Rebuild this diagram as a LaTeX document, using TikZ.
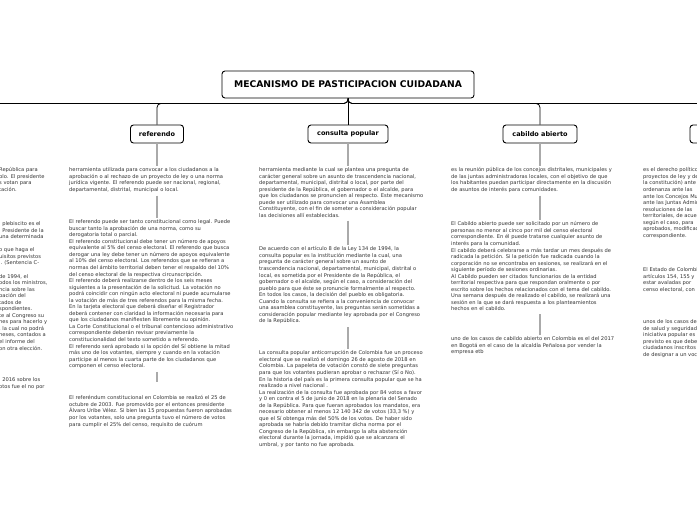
\documentclass[tikz,border=0pt]{standalone}
\usepackage{fontspec}
\setmainfont{DejaVu Sans}
\definecolor{textgray}{HTML}{333333}
\definecolor{linkgray}{HTML}{AAAAAA}
\begin{document}
\begin{tikzpicture}[x=1pt,y=-1pt,
  every node/.style={font=\fontsize{5.15}{6.55}\selectfont},
  titlebox/.style={draw=black, line width=0.9pt, rounded corners=3pt, fill=white,
    minimum width=252pt, minimum height=27pt, inner sep=0pt,
    font=\bfseries\fontsize{9.2}{10}\selectfont},
  topicbox/.style={draw=black, line width=0.9pt, rounded corners=3pt, fill=white,
    minimum height=18pt, inner xsep=4pt, inner ysep=0pt,
    font=\bfseries\fontsize{6.5}{7}\selectfont},
  body/.style={align=left, anchor=north west, inner xsep=0pt, inner ysep=2pt, text=textgray},
  mainlink/.style={draw=black, line width=0.8pt, rounded corners=4pt},
  sublink/.style={draw=linkgray, line width=1.2pt},
]
\fill[white] (0,0) rectangle (697,520);
\useasboundingbox (0,0) rectangle (697,520);
\clip (0,0) rectangle (697,520);

% ---------- title and topics ----------
\node[titlebox] (title) at (348,84.5) {MECANISMO DE PASTICIPACION CUIDADANA};
\coordinate (plebi) at (-34,125);
\node[topicbox, minimum width=53pt] (ref) at (157,134) {referendo};
\node[topicbox, minimum width=80pt] (cons) at (348,134) {consulta popular};
\node[topicbox, minimum width=74pt] (cab) at (540,134) {cabildo abierto};
\node[topicbox, minimum width=84pt] (inic) at (732,134) {};

\draw[mainlink] (title.south) -- ++(0,5) -| (plebi);
\draw[mainlink] (title.south) -- ++(0,5) -| (ref.north);
\draw[mainlink] (title.south) -- (cons.north);
\draw[mainlink] (title.south) -- ++(0,5) -| (cab.north);
\draw[mainlink] (title.south) -- ++(0,5) -| (inic.north);

% ---------- left column (cut off) ----------
\node[body] (plA) at (-1,165.5) {República para\\ blo. El presidente\\ s votan para\\ tación.};
\node[body] (plB) at (-1,219.5) {l plebiscito es el\\ l Presidente de la\\ una determinada\\ \mbox{}\\ o que haga el\\ uisitos previstos\\ l. (Sentencia C-\\ \mbox{}\\ de 1994, el\\ odos los ministros,\\ ncia sobre las\\ bación del\\ tados de\\ spondientes.\\ te al Congreso su\\ nes para hacerlo y\\ , la cual no podrá\\ neses, contados a\\ el informe del\\ on otra elección.};
\node[body] (plC) at (-1,375.5) {l 2016 sobre los\\ otos fue el no por};

% ---------- referendo ----------
\node[body] (refA) at (69,165.5) {herramienta utilizada para convocar a los ciudadanos a la\\
aprobación o al rechazo de un proyecto de ley o una norma\\
jurídica vigente. El referendo puede ser nacional, regional,\\
departamental, distrital, municipal o local.};
\node[body] (refB) at (69,217.5) {El referendo puede ser tanto constitucional como legal. Puede\\
buscar tanto la aprobación de una norma, como su\\
derogatoria total o parcial.\\
El referendo constitucional debe tener un número de apoyos\\
equivalente al 5\% del censo electoral. El referendo que busca\\
derogar una ley debe tener un número de apoyos equivalente\\
al 10\% del censo electoral. Los referendos que se refieran a\\
normas del ámbito territorial deben tener el respaldo del 10\%\\
del censo electoral de la respectiva circunscripción.\\
El referendo deberá realizarse dentro de los seis meses\\
siguientes a la presentación de la solicitud. La votación no\\
podrá coincidir con ningún acto electoral ni puede acumularse\\
la votación de más de tres referendos para la misma fecha.\\
En la tarjeta electoral que deberá diseñar el Registrador\\
deberá contener con claridad la información necesaria para\\
que los ciudadanos manifiesten libremente su opinión.\\
La Corte Constitucional o el tribunal contencioso administrativo\\
correspondiente deberán revisar previamente la\\
constitucionalidad del texto sometido a referendo.\\
El referendo será aprobado si la opción del Sí obtiene la mitad\\
más uno de los votantes, siempre y cuando en la votación\\
participe al menos la cuarta parte de los ciudadanos que\\
componen el censo electoral.};
\node[body] (refC) at (69,393.5) {El referéndum constitucional en Colombia se realizó el 25 de\\
octubre de 2003. Fue promovido por el entonces presidente\\
Álvaro Uribe Vélez. Si bien las 15 propuestas fueron aprobadas\\
por los votantes, solo una pregunta tuvo el número de votos\\
para cumplir el 25\% del censo, requisito de cuórum};
\draw[sublink] (ref.south) -- (ref.south |- refA.north);
\draw[sublink, shorten <=1pt] (ref.south |- refA.south) -- (ref.south |- refB.north);
\draw[sublink, shorten <=1pt, shorten >=12pt] (ref.south |- refB.south) -- (ref.south |- refC.north);

% ---------- consulta popular ----------
\node[body] (consA) at (259,165.5) {herramienta mediante la cual se plantea una pregunta de\\
carácter general sobre un asunto de trascendencia nacional,\\
departamental, municipal, distrital o local, por parte del\\
presidente de la República, el gobernador o el alcalde, para\\
que los ciudadanos se pronuncien al respecto. Este mecanismo\\
puede ser utilizado para convocar una Asamblea\\
Constituyente, con el fin de someter a consideración popular\\
las decisiones allí establecidas.};
\node[body] (consB) at (259,244.5) {De acuerdo con el artículo 8 de la Ley 134 de 1994, la\\
consulta popular es la institución mediante la cual, una\\
pregunta de carácter general sobre un asunto de\\
trascendencia nacional, departamental, municipal, distrital o\\
local, es sometida por el Presidente de la República, el\\
gobernador o el alcalde, según el caso, a consideración del\\
pueblo para que éste se pronuncie formalmente al respecto.\\
En todos los casos, la decisión del pueblo es obligatoria.\\
Cuando la consulta se refiera a la conveniencia de convocar\\
una asamblea constituyente, las preguntas serán sometidas a\\
consideración popular mediante ley aprobada por el Congreso\\
de la República.};
\node[body] (consC) at (259,348.5) {La consulta popular anticorrupción de Colombia fue un proceso\\
electoral que se realizó el domingo 26 de agosto de 2018 en\\
Colombia. La papeleta de votación constó de siete preguntas\\
para que los votantes pudieran aprobar o rechazar (Sí o No).\\
En la historia del país es la primera consulta popular que se ha\\
realizado a nivel nacional .\\
La realización de la consulta fue aprobada por 84 votos a favor\\
y 0 en contra el 5 de junio de 2018 en la plenaria del Senado\\
de la República. Para que fueran aprobados los mandatos, era\\
necesario obtener al menos 12 140 342 de votos (33,3 \%) y\\
que el Sí obtenga más del 50\% de los votos. De haber sido\\
aprobada se habría debido tramitar dicha norma por el\\
Congreso de la República, sin embargo la alta abstención\\
electoral durante la jornada, impidió que se alcanzara el\\
umbral, y por tanto no fue aprobada.};
\draw[sublink] (cons.south) -- (cons.south |- consA.north);
\draw[sublink, shorten <=1pt] (cons.south |- consA.south) -- (cons.south |- consB.north);
\draw[sublink, shorten <=1pt] (cons.south |- consB.south) -- (cons.south |- consC.north);

% ---------- cabildo abierto ----------
\node[body] (cabA) at (451,165.5) {es la reunión pública de los concejos distritales, municipales y\\
de las juntas administradoras locales, con el objetivo de que\\
los habitantes puedan participar directamente en la discusión\\
de asuntos de interés para comunidades.};
\node[body] (cabB) at (451,219.5) {El Cabildo abierto puede ser solicitado por un número de\\
personas no menor al cinco por mil del censo electoral\\
correspondiente. En él puede tratarse cualquier asunto de\\
interés para la comunidad.\\
El cabildo deberá celebrarse a más tardar un mes después de\\
radicada la petición. Si la petición fue radicada cuando la\\
corporación no se encontraba en sesiones, se realizará en el\\
siguiente período de sesiones ordinarias.\\
Al Cabildo pueden ser citados funcionarios de la entidad\\
territorial respectiva para que respondan oralmente o por\\
escrito sobre los hechos relacionados con el tema del cabildo.\\
Una semana después de realizado el cabildo, se realizará una\\
sesión en la que se dará respuesta a los planteamientos\\
hechos en el cabildo.};
\node[body] (cabC) at (451,334.5) {uno de los casos de cabildo abierto en Colombia es el del 2017\\
en Bogotá en el caso de la alcaldía Peñalosa por vender la\\
empresa etb};
\draw[sublink] (cab.south) -- (cab.south |- cabA.north);
\draw[sublink, shorten <=1pt] (cab.south |- cabA.south) -- (cab.south |- cabB.north);
\draw[sublink, shorten <=1pt] (cab.south |- cabB.south) -- (cab.south |- cabC.north);

% ---------- right column (cut off) ----------
\node[body] (inA) at (643,165.5) {es el derecho político\\ proyectos de ley y de\\ la constitución) ante\\ ordenanza ante las\\ ante los Concejos Municipales\\ ante las Juntas Administradoras\\ resoluciones de las\\ territoriales, de acuerdo\\ según el caso, para\\ aprobados, modificados\\ correspondiente.};
\node[body] (inB) at (643,265.5) {El Estado de Colombia\\ artículos 154, 155 y\\ estar avaladas por\\ censo electoral, con};
\node[body] (inC) at (643,317.5) {unos de los casos de\\ de salud y seguridad\\ iniciativa popular es\\ previsto es que deben\\ ciudadanos inscritos\\ de designar a un vocero};
\draw[sublink] (inic.south) -- (inic.south |- inA.north);
\draw[sublink] (inic.south |- inA.south) -- (inic.south |- inB.north);
\draw[sublink] (inic.south |- inB.south) -- (inic.south |- inC.north);
\end{tikzpicture}
\end{document}
